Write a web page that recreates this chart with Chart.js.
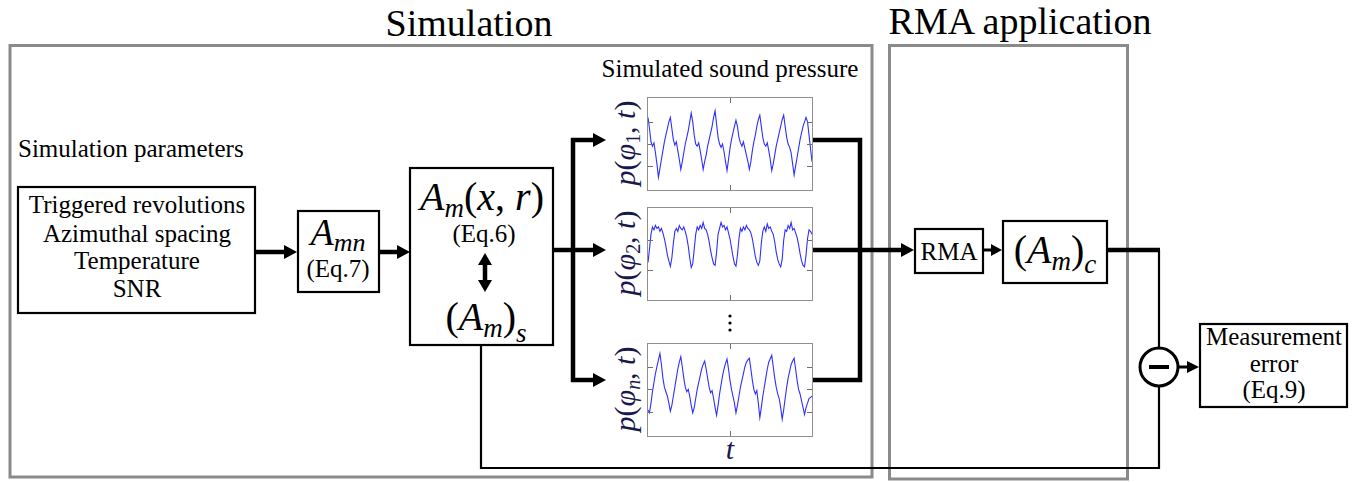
<!DOCTYPE html>
<html>
<head>
<meta charset="utf-8">
<script src="https://cdn.jsdelivr.net/npm/chart.js@4.4.1/dist/chart.umd.min.js"></script>
<style>
  html, body { margin: 0; padding: 0; background: #fff; }
  #page { position: relative; width: 1358px; height: 482px; overflow: hidden; }
  #diagram { position: absolute; left: 0; top: 0; }
  #diagram text { font-family: 'Liberation Serif', 'DejaVu Serif', serif; }
  .panel { position: absolute; box-sizing: border-box; border: 1px solid #8f8f8f; background: #fff; }
</style>
</head>
<body>
<div id="page">
<svg id="diagram" width="1358" height="482" xmlns="http://www.w3.org/2000/svg" font-family="Liberation Serif">
  <!-- frames -->
  <rect x="10" y="45.5" width="862" height="431.5" fill="none" stroke="#8a8a8a" stroke-width="3"/>
  <rect x="889.5" y="45.5" width="238" height="433.5" fill="none" stroke="#8a8a8a" stroke-width="3"/>
  <text x="469" y="36" font-size="38" text-anchor="middle">Simulation</text>
  <text x="1020" y="34" font-size="38" text-anchor="middle">RMA application</text>
  <text x="730" y="77" font-size="25" text-anchor="middle">Simulated sound pressure</text>
  <text x="18" y="157" font-size="25">Simulation parameters</text>

  <!-- boxes -->
  <g fill="none" stroke="#000" stroke-width="2.2">
    <rect x="18" y="187" width="237" height="126"/>
    <rect x="298" y="211" width="81" height="81"/>
    <rect x="410" y="168" width="143" height="177"/>
    <rect x="915" y="229" width="68" height="44"/>
    <rect x="1003" y="221" width="104" height="62"/>
    <rect x="1200" y="324" width="147" height="83"/>
    <circle cx="1159" cy="367" r="19" stroke-width="3"/>
  </g>

  <!-- thick connectors -->
  <g fill="none" stroke="#000" stroke-width="4.5">
    <line x1="255" y1="252" x2="286" y2="252"/>
    <line x1="379" y1="252" x2="399" y2="252"/>
    <line x1="553" y1="250" x2="573" y2="250"/>
    <polyline points="594,140 573,140 573,380 594,380"/>
    <line x1="573" y1="250" x2="594" y2="250"/>
    <polyline points="812,140 860,140 860,380 812,380"/>
    <line x1="812" y1="250" x2="902" y2="250"/>
    <line x1="1107" y1="250" x2="1160" y2="250"/>
    <line x1="485" y1="262" x2="485" y2="283"/>
    <line x1="1149" y1="367" x2="1169" y2="367" stroke-width="4"/>
  </g>
  <g fill="none" stroke="#000" stroke-width="3">
    <line x1="983" y1="250" x2="992" y2="250"/>
    <line x1="1178" y1="367" x2="1188" y2="367"/>
  </g>
  <!-- thin feedback -->
  <g fill="none" stroke="#000" stroke-width="2.2">
    <line x1="1159" y1="250" x2="1159" y2="348"/>
    <polyline points="481,345 481,468 1159,468 1159,386"/>
  </g>
  <!-- arrow heads -->
  <g fill="#000">
    <polygon points="284,245 297,252 284,259"/>
    <polygon points="397,245 410,252 397,259"/>
    <polygon points="593,133 606,140 593,147"/>
    <polygon points="593,243 606,250 593,257"/>
    <polygon points="593,373 606,380 593,387"/>
    <polygon points="901,243 914,250 901,257"/>
    <polygon points="991,244 1002,250 991,256"/>
    <polygon points="1187,361 1199,367 1187,373"/>
    <polygon points="478,265 485,253 492,265"/>
    <polygon points="478,280 485,292 492,280"/>
  </g>

  <!-- box texts -->
  <g font-size="25" text-anchor="middle">
    <text x="137" y="213">Triggered revolutions</text>
    <text x="137" y="242">Azimuthal spacing</text>
    <text x="137" y="269">Temperature</text>
    <text x="137" y="297">SNR</text>
    <text x="338" y="277">(Eq.7)</text>
    <text x="484" y="242">(Eq.6)</text>
    <text x="949" y="260">RMA</text>
    <text x="1274" y="345">Measurement</text>
    <text x="1274" y="372">error</text>
    <text x="1274" y="398">(Eq.9)</text>
  </g>
  <text x="338" y="245" text-anchor="middle" font-size="38" font-style="italic">A<tspan font-size="26" dy="6">mn</tspan></text>
  <text x="482" y="210" text-anchor="middle" font-size="40"><tspan font-style="italic">A</tspan><tspan font-style="italic" font-size="27" dy="7">m</tspan><tspan dy="-7">(</tspan><tspan font-style="italic">x</tspan>,  <tspan font-style="italic">r</tspan>)</text>
  <text x="486" y="330" text-anchor="middle" font-size="40">(<tspan font-style="italic">A</tspan><tspan font-style="italic" font-size="27" dy="7">m</tspan><tspan dy="-7">)</tspan><tspan font-style="italic" font-size="27" dy="12">s</tspan></text>
  <text x="1055" y="263" text-anchor="middle" font-size="40">(<tspan font-style="italic">A</tspan><tspan font-style="italic" font-size="27" dy="7">m</tspan><tspan dy="-7">)</tspan><tspan font-style="italic" font-size="27" dy="10">c</tspan></text>

  <!-- panel labels -->
  <g font-size="30" text-anchor="middle" fill="#18184d">
    <text transform="translate(635,143) rotate(-90)"><tspan font-style="italic">p</tspan>(<tspan font-style="italic">φ</tspan><tspan font-size="20" dy="5">1</tspan><tspan dy="-5">, </tspan><tspan font-style="italic">t</tspan>)</text>
    <text transform="translate(635,253) rotate(-90)"><tspan font-style="italic">p</tspan>(<tspan font-style="italic">φ</tspan><tspan font-size="20" dy="5">2</tspan><tspan dy="-5">, </tspan><tspan font-style="italic">t</tspan>)</text>
    <text transform="translate(635,389) rotate(-90)"><tspan font-style="italic">p</tspan>(<tspan font-style="italic">φ</tspan><tspan font-size="20" font-style="italic" dy="5">n</tspan><tspan dy="-5">, </tspan><tspan font-style="italic">t</tspan>)</text>
    <text x="730" y="459" font-style="italic">t</text>
  </g>
  <g fill="#000">
    <circle cx="730" cy="316" r="1.6"/>
    <circle cx="730" cy="323" r="1.6"/>
    <circle cx="730" cy="330" r="1.6"/>
  </g>
</svg>

<div class="panel" style="left:647px;top:97px;width:166px;height:94px"><canvas id="p1"></canvas></div>
<div class="panel" style="left:647px;top:207px;width:166px;height:94px"><canvas id="p2"></canvas></div>
<div class="panel" style="left:647px;top:343px;width:166px;height:94px"><canvas id="p3"></canvas></div>
</div>

<script>
// sound pressure at microphone 1, 2 and n (arbitrary units)
const pressure1 = [
  1.2, 0.7, 0.1, -0.1, 0.05, -0.4, -0.9, -1.5,
  -1.1, -0.7, -0.3, 0.1, 0.4, 0.7, 1.0, 1.2,
  0.7, 0.2, -0.05, 0.1, -0.3, -0.7, -1.15,
  -0.8, -0.4, 0.0, 0.3, 0.6, 1.0, 1.4,
  1.0, 0.4, 0.0, -0.1, 0.05, -0.3, -0.7, -1.15,
  -0.8, -0.5, -0.1, 0.2, 0.5, 0.8, 1.2, 1.5,
  0.9, 0.3, 0.0, -0.15, 0.0, -0.35, -0.8, -1.2,
  -0.7, -0.2, 0.2, 0.5, 0.8, 1.07,
  0.8, 0.3, 0.05, -0.1, 0.1, -0.2, -0.5, -0.8, -1.15,
  -0.8, -0.3, 0.1, 0.4, 0.8, 1.1, 1.3,
  0.8, 0.3, 0.0, -0.1, 0.05, -0.3, -0.7, -1.2,
  -0.9, -0.5, -0.1, 0.2, 0.5, 0.8, 1.1, 1.3,
  0.8, 0.3, 0.0, -0.15, -0.4, -0.9, -1.4,
  -1.0, -0.6, -0.2, 0.2, 0.5, 0.8, 1.0, 1.2,
  1.0, 0.4, -0.2, -0.8
];
const pressure2 = [
  0.25, 0.7, 1.2, 1.45, 1.35, 1.5, 1.4, 1.45, 1.3, 1.4, 1.25, 1.05, 0.8, 0.5, 0.3,
  0.12, 0.4, 0.9, 1.3, 1.4, 1.3, 1.5, 1.4, 1.35, 1.45, 1.3, 1.1, 0.8, 0.4, 0.08,
  0.2, 0.7, 1.2, 1.45, 1.35, 1.5, 1.4, 1.6, 1.4, 1.35, 1.2, 0.95, 0.65, 0.4, 0.2,
  0.15, 0.6, 1.2, 1.4, 1.6, 1.45, 1.5, 1.35, 1.45, 1.25, 1.05, 0.75, 0.45, 0.2,
  0.12, 0.5, 1.05, 1.4, 1.3, 1.45, 1.35, 1.5, 1.4, 1.35, 1.25, 1.05, 0.75, 0.45, 0.25,
  0.15, 0.3, 0.9, 1.3, 1.45, 1.3, 1.55, 1.4, 1.45, 1.3, 1.2, 0.95, 0.6, 0.35, 0.2,
  0.1, 0.35, 1.0, 1.35, 1.3, 1.5, 1.4, 1.6, 1.35, 1.4, 1.25, 1.1, 0.85, 0.55, 0.3,
  0.15, 0.1, 0.5, 1.05, 1.35, 1.3, 1.2
];
const pressure3 = [
  -0.9, -1.03, -0.6, -0.1, 0.3, 0.7, 1.0, 1.3, 1.58,
  1.1, 0.5, 0.1, -0.1, -0.3, -0.6, -0.96,
  -0.7, -0.3, 0.1, 0.5, 0.9, 1.2, 1.44,
  1.0, 0.5, 0.1, -0.1, 0.0, -0.3, -0.7, -1.03,
  -0.8, -0.4, 0.0, 0.3, 0.6, 0.9, 1.1, 1.25,
  0.9, 0.5, 0.1, -0.15, -0.05, -0.4, -0.8, -1.14,
  -0.7, -0.2, 0.2, 0.6, 0.9, 1.15, 1.34,
  0.9, 0.4, 0.0, -0.3, -0.6, -1.03,
  -0.7, -0.3, 0.1, 0.4, 0.7, 1.0, 1.2, 1.3, 1.37,
  0.9, 0.4, 0.0, -0.2, -0.05, -0.6, -1.24,
  -0.8, -0.3, 0.1, 0.5, 0.9, 1.2, 1.35, 1.5,
  1.0, 0.5, 0.1, -0.2, -0.4, -0.8, -1.31,
  -0.9, -0.4, 0.1, 0.5, 0.8, 1.1, 1.25, 1.37,
  0.9, 0.4, 0.0, -0.2, -0.5, -0.8, -1.1,
  -0.8, -0.6, -0.4, -0.35, -0.3
];

// tick marks drawn inside each panel
const tTicks = [55];
const yTicks1 = [-1, 0, 1];
const yTicks2 = [0, 1];
const yTicks3 = [-1, 0, 1];

const innerTicks = {
  id: 'innerTicks',
  afterDatasetsDraw(chart, args, opts) {
    const { ctx, chartArea: a, scales: { x, y } } = chart;
    ctx.save();
    ctx.strokeStyle = '#6e6e6e';
    ctx.lineWidth = 1;
    ctx.beginPath();
    opts.yTicks.forEach(v => {
      const py = Math.round(y.getPixelForValue(v)) + 0.5;
      ctx.moveTo(a.left, py); ctx.lineTo(a.left + 5, py);
      ctx.moveTo(a.right - 5, py); ctx.lineTo(a.right, py);
    });
    tTicks.forEach(v => {
      const px = Math.round(x.getPixelForValue(v)) + 0.5;
      ctx.moveTo(px, a.top); ctx.lineTo(px, a.top + 5);
      ctx.moveTo(px, a.bottom - 5); ctx.lineTo(px, a.bottom);
    });
    ctx.stroke();
    ctx.restore();
  }
};

function makePanel(id, values, yMin, yMax, yTicks) {
  return new Chart(document.getElementById(id), {
    type: 'line',
    data: {
      labels: values.map((v, i) => i),
      datasets: [{ data: values, borderColor: '#2f2fff', borderWidth: 1.1, pointRadius: 0, tension: 0 }]
    },
    options: {
      responsive: true,
      maintainAspectRatio: false,
      animation: false,
      events: [],
      layout: { padding: 0 },
      plugins: { legend: { display: false }, tooltip: { enabled: false }, innerTicks: { yTicks: yTicks } },
      scales: {
        x: { type: 'linear', min: 0, max: values.length - 1, display: false },
        y: { min: yMin, max: yMax, display: false }
      }
    },
    plugins: [innerTicks]
  });
}

makePanel('p1', pressure1, -2.08, 2.08, yTicks1);
makePanel('p2', pressure2, -1.02, 2.09, yTicks2);
makePanel('p3', pressure3, -2.05, 2.0, yTicks3);
</script>
</body>
</html>
